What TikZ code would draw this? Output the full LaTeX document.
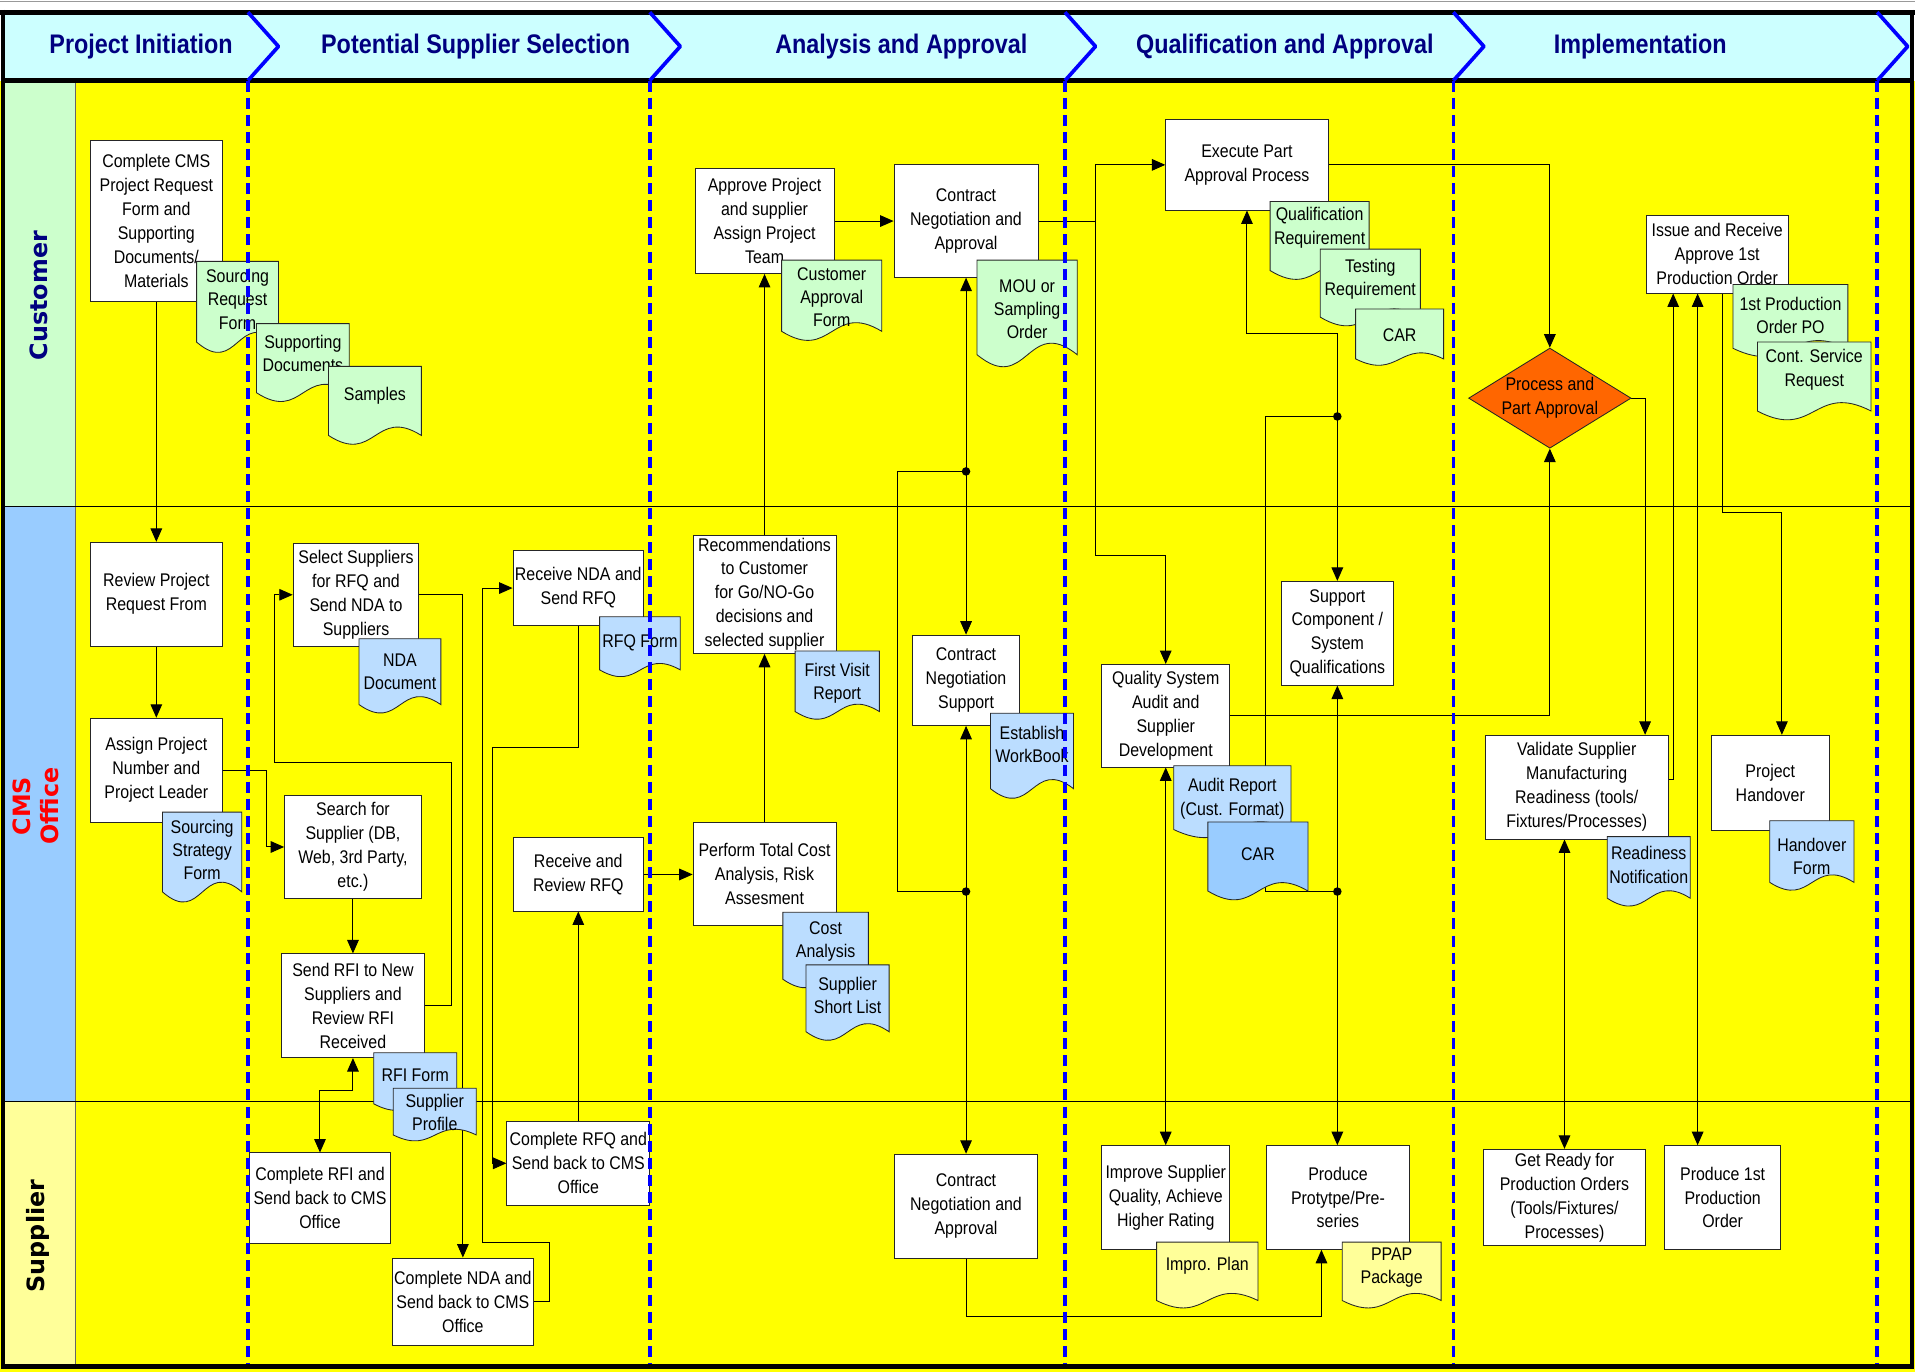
\documentclass[tikz,border=0pt]{standalone}
\usepackage{fontspec}
\setmainfont{Liberation Sans}[FakeStretch=0.87]
\newfontfamily\lanefamily{DejaVu Sans}
\usetikzlibrary{arrows.meta,shapes.geometric}
\definecolor{navy}{HTML}{000080}
\definecolor{hdrcyan}{HTML}{CCFFFF}
\definecolor{custgreen}{HTML}{CCFFCC}
\definecolor{laneblue}{HTML}{99CCFF}
\definecolor{laneyellow}{HTML}{FFFF99}
\definecolor{mainyellow}{HTML}{FFFF00}
\definecolor{docgreen}{HTML}{CCFFCC}
\definecolor{docblue}{HTML}{BBDDFF}
\definecolor{docbluedark}{HTML}{99CCFF}
\definecolor{docyellow}{HTML}{FFFF99}
\definecolor{dorange}{HTML}{FF6600}
\newcommand\boxfont{\fontsize{15}{19.6}\selectfont}
\newcommand\doctextfont{\fontsize{15}{19}\selectfont}
\newcommand\hdrfont{\fontsize{22}{24}\selectfont\bfseries}
\newcommand\lanelblfont{\lanefamily\bfseries\fontsize{19.5}{23}\selectfont}
\pgfdeclarelayer{bglayer}
\pgfdeclarelayer{connlayer}
\pgfdeclarelayer{frontlayer}
\pgfsetlayers{bglayer,connlayer,main,frontlayer}
\tikzset{
  procbox/.style={draw=black!85, line width=0.7pt, fill=white, inner sep=1pt, align=center, font=\boxfont},
  doctext/.style={inner sep=0pt, align=center, font=\doctextfont},
  docline/.style={draw=black!85, line width=0.7pt},
  conn/.style={draw=black, line width=0.8pt},
  arr/.style={conn, -{Triangle[length=11pt,width=9.5pt]}},
  arr2/.style={conn, {Triangle[length=11pt,width=9.5pt]}-{Triangle[length=11pt,width=9.5pt]}},
  phaseline/.style={draw=blue, line width=3pt, dash pattern=on 9pt off 5pt},
  chev/.style={draw=blue, line width=3pt, line join=round},
  hdrtext/.style={font=\hdrfont, text=navy, inner sep=0pt},
  lanelbl/.style={font=\lanelblfont, rotate=90, align=center, inner sep=0pt},
}
\newcommand\bx[6]{\node[procbox, minimum width=#4pt, minimum height=#5pt] (#1) at (#2,#3) {#6};}
\newcommand\docshape[8]{%
  \path[docline, fill=#6] (#2,#3) -- (#4,#3) -- (#4,{#3+0.87*(#5-#3)})
    .. controls ({(#2+#4)/2},{#3+0.5*(#5-#3)}) and ({(#2+#4)/2},{#3+1.25*(#5-#3)}) .. (#2,{#3+0.87*(#5-#3)}) -- cycle;
  \node[doctext] (#1) at ({(#2+#4)/2},{#3+#7*(#5-#3)}) {#8};}
\begin{document}
\begin{tikzpicture}[x=1pt,y=-1pt]
\useasboundingbox (0,0) rectangle (1568,1123);
\begin{pgfonlayer}{bglayer}
  \fill[white] (0,0) rectangle (1568,1123);
  \fill[mainyellow] (0,66) rectangle (1568,1123);
  \fill[hdrcyan] (2,10) rectangle (1566,66);
  \fill[custgreen] (3,66) rectangle (62,415);
  \fill[laneblue] (3,415) rectangle (62,902);
  \fill[laneyellow] (3,902) rectangle (62,1119);
  \draw[black!60, line width=0.8pt] (62,66) -- (62,1119);
  \draw[line width=0.9pt] (3,415) -- (1565,415);
  \draw[line width=0.9pt] (3,902) -- (1565,902);
  \draw[black!40, line width=0.6pt] (0,1) -- (1568,1);
  \draw[line width=4pt] (0,10) -- (1568,10);
  \draw[line width=3.5pt] (2.5,66) -- (1566,66);
  \draw[line width=4pt] (2.5,1119) -- (1566,1119);
  \draw[line width=4pt] (2.5,8) -- (2.5,1121);
  \draw[line width=4pt] (1565.5,8) -- (1565.5,1121);
\end{pgfonlayer}

% lane labels
\node[lanelbl, text=navy] (lcust) at (32,242) {Customer};
\node[lanelbl, text=red] (lcms) at (29,660) {CMS\\Office};
\node[lanelbl, text=black] (lsup) at (31,1012) {Supplier};

% header texts
\node[hdrtext] (h1) at (115.5,38) {Project Initiation};
\node[hdrtext] (h2) at (389.5,38) {Potential Supplier Selection};
\node[hdrtext] (h3) at (738,38) {Analysis and Approval};
\node[hdrtext] (h4) at (1052,38) {Qualification and Approval};
\node[hdrtext] (h5) at (1343,38) {Implementation};

% process boxes
\bx{cmsreq}{128}{181}{108}{132}{Complete CMS\\Project Request\\Form and\\Supporting\\Documents/\\Materials}
\bx{appr}{626}{181}{114}{86}{Approve Project\\and supplier\\Assign Project\\Team}
\bx{cnaA}{791}{181}{118}{92}{Contract\\Negotiation and\\Approval}
\bx{exec}{1021}{135}{133}{74}{Execute Part\\Approval Process}
\bx{issue}{1406}{208}{116}{64}{Issue and Receive\\Approve 1st\\Production Order}
\bx{review}{128}{486.5}{108}{85}{Review Project\\Request From}
\bx{assign}{128}{630.5}{108}{85}{Assign Project\\Number and\\Project Leader}
\bx{select}{291.5}{487}{103}{84}{Select Suppliers\\for RFQ and\\Send NDA to\\Suppliers}
\bx{search}{289}{693.5}{112}{85}{Search for\\Supplier (DB,\\Web, 3rd Party,\\etc.)}
\bx{sendrfi}{289}{823.5}{117}{85}{Send RFI to New\\Suppliers and\\Review RFI\\Received}
\bx{recvnda}{473.5}{481.5}{107}{61}{Receive NDA and\\Send RFQ}
\bx{recvrfq}{473.5}{716}{107}{60}{Receive and\\Review RFQ}
\bx{recomm}{626}{486.5}{117}{97}{Recommendations\\to Customer\\for Go/NO-Go\\decisions and\\selected supplier}
\bx{perform}{626}{715.5}{117}{85}{Perform Total Cost\\Analysis, Risk\\Assesment}
\bx{cns}{791}{557}{88}{74}{Contract\\Negotiation\\Support}
\bx{qsa}{954.5}{586}{105}{84}{Quality System\\Audit and\\Supplier\\Development}
\bx{support}{1095}{518.5}{92}{85}{Support\\Component /\\System\\Qualifications}
\bx{validate}{1291}{644.5}{150}{85}{Validate Supplier\\Manufacturing\\Readiness (tools/\\Fixtures/Processes)}
\bx{handover}{1449.5}{641}{97}{78}{Project\\Handover}
\bx{crfi}{262}{981}{116}{74}{Complete RFI and\\Send back to CMS\\Office}
\bx{cnda}{379}{1066}{116}{72}{Complete NDA and\\Send back to CMS\\Office}
\bx{crfq}{473.5}{952.5}{117}{69}{Complete RFQ and\\Send back to CMS\\Office}
\bx{cnaB}{791}{987.5}{117}{85}{Contract\\Negotiation and\\Approval}
\bx{improve}{954.5}{980.5}{105}{85}{Improve Supplier\\Quality, Achieve\\Higher Rating}
\bx{produce}{1095.5}{980.5}{117}{85}{Produce\\Protytpe/Pre-\\series}
\bx{getready}{1281}{980.5}{132}{79}{Get Ready for\\Production Orders\\(Tools/Fixtures/\\Processes)}
\bx{prodone}{1410.5}{980.5}{95}{85}{Produce 1st\\Production\\Order}

% decision
\node[diamond, draw=black!85, line width=0.7pt, fill=dorange, minimum width=133pt, minimum height=82pt, inner sep=0pt] (dmd) at (1269,326) {};
\node[font=\boxfont, align=center, inner sep=0pt] (dmdtext) at (dmd) {Process and\\Part Approval};

% documents
\docshape{dsrf}{161}{214}{228}{290}{docgreen}{0.41}{Sourcing\\Request\\Form}
\docshape{dsd}{210}{265}{286}{330}{docgreen}{0.38}{Supporting\\Documents}
\docshape{dsam}{269}{300}{345}{365}{docgreen}{0.37}{Samples}
\docshape{dcaf}{640}{213}{722}{280}{docgreen}{0.45}{Customer\\Approval\\Form}
\docshape{dmou}{800}{213}{882}{302}{docgreen}{0.45}{MOU or\\Sampling\\Order}
\docshape{dqr}{1040}{165}{1121}{230}{docgreen}{0.33}{Qualification\\Requirement}
\docshape{dtr}{1081}{204}{1163}{268}{docgreen}{0.39}{Testing\\Requirement}
\docshape{dcara}{1110}{253}{1182}{300}{docgreen}{0.45}{CAR}
\docshape{dpo}{1419}{233}{1513}{293}{docgreen}{0.42}{1st Production\\Order PO}
\docshape{dcsr}{1439}{280}{1532}{345}{docgreen}{0.35}{Cont. Service\\Request}
\docshape{dssf}{133}{665}{198}{740}{docblue}{0.41}{Sourcing\\Strategy\\Form}
\docshape{dnda}{294}{523}{361}{585}{docblue}{0.44}{NDA\\Document}
\docshape{drfi}{306}{862}{374}{910}{docblue}{0.38}{RFI Form}
\docshape{dsp}{322}{891}{390}{935}{docblue}{0.45}{Supplier\\Profile}
\docshape{drfq}{491}{505}{557}{555}{docblue}{0.42}{RFQ Form}
\docshape{dfvr}{651}{533}{720}{590}{docblue}{0.46}{First Visit\\Report}
\docshape{dca}{641}{747}{711}{810}{docblue}{0.38}{Cost\\Analysis}
\docshape{dssl}{660}{790}{728}{853}{docblue}{0.40}{Supplier\\Short List}
\docshape{dwb}{811}{584}{879}{655}{docblue}{0.36}{Establish\\WorkBook}
\docshape{dar}{961}{627}{1057}{687}{docblue}{0.45}{Audit Report\\(Cust. Format)}
\docshape{dcarb}{989}{673}{1071}{738}{docbluedark}{0.40}{CAR}
\docshape{drn}{1316}{685}{1384}{743}{docblue}{0.40}{Readiness\\Notification}
\docshape{dhf}{1449}{672}{1518}{730}{docblue}{0.50}{Handover\\Form}
\docshape{dip}{947}{1017}{1030}{1072}{docyellow}{0.35}{Impro. Plan}
\docshape{dppap}{1099}{1017}{1180}{1072}{docyellow}{0.38}{PPAP\\Package}

% connectors
\begin{pgfonlayer}{connlayer}
  \draw[arr] (cmsreq.south) -- (review.north);
  \draw[arr] (review.south) -- (assign.north);
  \draw[arr] (assign.east) -- (218,630.5) |- (search.west);
  \draw[arr] (search.south) -- (sendrfi.north);
  \draw[arr] (sendrfi.east) -- (370,823.5) -- (370,624) -- (225,624) |- (select.west);
  \draw[arr] (select.east) -| (cnda.north);
  \draw[arr] (cnda.east) -- (450,1066) -- (450,1017) -- (395,1017) |- (recvnda.west);
  \draw[arr] (recvnda.south) -- (473.5,612) -- (403,612) |- (crfq.west);
  \draw[arr] (crfq.north) -- (recvrfq.south);
  \draw[arr] (recvrfq.east) -- (recvrfq.east -| perform.west);
  \draw[arr] (perform.north) -- (recomm.south);
  \draw[arr] (recomm.north) -- (appr.south);
  \draw[arr] (appr.east) -- (cnaA.west);
  \coordinate (na) at (897,181);
  \draw[arr] (cnaA.east) -- (na) |- (exec.west);
  \draw[arr] (na) -- (897,455) -| (qsa.north);
  \draw[arr2] (cnaA.south) -- (cns.north);
  \draw[arr2] (cns.south) -- (cnaB.north);
  \coordinate (ja) at (791,386);
  \coordinate (jb) at (791,730);
  \draw[conn] (ja) -- (735,386) -- (735,730) -- (jb);
  \fill (ja) circle (3.5pt);
  \fill (jb) circle (3.5pt);
  \coordinate (ka) at (1095,273);
  \draw[arr] (ka) -| (exec.south);
  \draw[arr] (ka) -- (support.north);
  \coordinate (kb) at (1095,341);
  \coordinate (kc) at (1095,730);
  \draw[conn] (kb) -- (1036,341) -- (1036,730) -- (kc);
  \fill (kb) circle (3.5pt);
  \fill (kc) circle (3.5pt);
  \draw[arr2] (support.south) -- (support.south |- produce.north);
  \draw[arr] (qsa.east) -| (dmd.south);
  \draw[arr2] (qsa.south) -- (improve.north);
  \draw[arr] (exec.east) -| (dmd.north);
  \draw[arr] (dmd.east) -| ([xshift=56pt]validate.north);
  \draw[arr] ([yshift=6.5pt]validate.east) -| ([xshift=-36pt]issue.south);
  \draw[arr2] (getready.north) -- (getready.north |- validate.south);
  \draw[arr2] ([xshift=-20.5pt]prodone.north) -- ([xshift=-20.5pt]prodone.north |- issue.south);
  \coordinate (ha) at (1410,420);
  \draw[arr] (issue.south -| ha) -- (ha) -| ([xshift=9.5pt]handover.north);
  \draw[arr] (cnaB.south) -- (791,1078) -| ([xshift=-13.5pt]produce.south);
  \draw[arr2] (sendrfi.south) -- (289,893) -| (crfi.north);
\end{pgfonlayer}

% phase dividers
\begin{pgfonlayer}{frontlayer}
  \foreach \px in {203,532,872,1190,1537} {
    \draw[chev] (\px,10) -- (\px+25,38) -- (\px,66);
    \draw[phaseline] (\px,66) -- (\px,1117);
  }
\end{pgfonlayer}
\end{tikzpicture}
\end{document}
